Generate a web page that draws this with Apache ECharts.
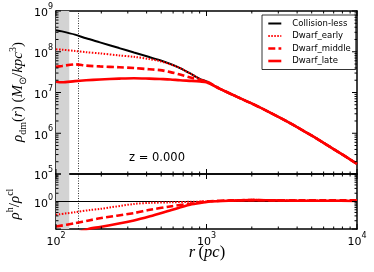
<!DOCTYPE html>
<html><head><meta charset="utf-8">
<script src="https://cdn.jsdelivr.net/npm/echarts@6/dist/echarts.min.js"></script>
<style>html,body{margin:0;padding:0;background:#fff}#c{width:374px;height:272px}</style>
</head><body><div id="c"></div>
<script>
// ---- data (log10 values) ----
const seriesNames = ['Collision-less', 'Dwarf_early', 'Dwarf_middle', 'Dwarf_late'];
// top panel: log10 r [pc]
const logR = [2.0, 2.04, 2.126, 2.2, 2.292, 2.42, 2.518, 2.62, 2.691, 2.76, 2.824, 2.9, 2.957, 3.0, 3.09, 3.2, 3.289, 3.4, 3.555, 3.7, 3.754, 3.85, 4.0];
// log10 rho_dm [Msun/kpc^3]
const logRhoCollisionless = [8.53, 8.50, 8.42, 8.33, 8.23, 8.09, 7.98, 7.87, 7.79, 7.70, 7.60, 7.45, 7.33, 7.27, 7.09, 6.90, 6.75, 6.55, 6.25, 5.94, 5.82, 5.60, 5.25];
const logRhoEarly = [8.06, 8.05, 8.02, 7.99, 7.96, 7.91, 7.875, 7.82, 7.77, 7.69, 7.60, 7.45, 7.33, 7.27, 7.09, 6.90, 6.75, 6.55, 6.25, 5.94, 5.82, 5.60, 5.25];
const logRhoMiddle = [7.63, 7.65, 7.69, 7.66, 7.64, 7.62, 7.60, 7.57, 7.55, 7.50, 7.44, 7.36, 7.30, 7.27, 7.09, 6.90, 6.75, 6.55, 6.25, 5.94, 5.82, 5.60, 5.25];
const logRhoLate = [7.265, 7.25, 7.28, 7.30, 7.32, 7.34, 7.35, 7.34, 7.33, 7.32, 7.30, 7.285, 7.27, 7.25, 7.09, 6.90, 6.75, 6.55, 6.25, 5.94, 5.82, 5.60, 5.25];
// bottom panel: log10 of rho_h / rho_cl
const logRRatio = [2.0, 2.126, 2.226, 2.292, 2.518, 2.625, 2.757, 2.89, 2.99, 3.023, 3.156, 3.309, 3.45, 3.621, 3.8, 4.0];
const logRRatioCollisionless = [2.0, 4.0];
const logRatioCollisionless = [0, 0];
const logRatioEarly = [-0.48, -0.39, -0.31, -0.27, -0.09, -0.05, -0.03, -0.01, 0.0, 0.01, 0.03, 0.06, 0.05, 0.04, 0.03, 0.03];
const logRatioMiddle = [-0.91, -0.79, -0.68, -0.61, -0.42, -0.30, -0.18, -0.08, 0.0, 0.01, 0.04, 0.05, 0.04, 0.04, 0.04, 0.04];
const logRatioLate = [-1.3, -1.16, -0.98, -0.93, -0.69, -0.54, -0.33, -0.12, -0.03, 0.0, 0.03, 0.05, 0.04, 0.03, 0.03, 0.02];
// shaded (unresolved) region and vertical dotted line, in log10 r
const shadedLogR = [2.0, 2.088];
const resolutionLogR = [2.148];
// tick values
const xMajorTicks = [2, 3, 4];
const yMajorTicksTop = [5, 6, 7, 8, 9];
const yMajorTicksBottom = [-1, 0, 1];
const yLabelTicksBottom = [0];
const zText = 'z = 0.000';

// ---- helpers ----
function minorLogs(nFrom, nTo) {
  const out = [];
  for (let n = nFrom; n <= nTo; n++) for (let k = 2; k <= 9; k++) out.push(Math.log10(k) + n);
  return out;
}
function pairs(xs, ys) { return xs.map((x, i) => [x, ys[i]]); }
const supRich = {
  b: { fontFamily: 'DejaVu Sans', fontSize: 11, color: '#000', lineHeight: 16, verticalAlign: 'bottom' },
  s: { fontFamily: 'DejaVu Sans', fontSize: 8, color: '#000', lineHeight: 16, verticalAlign: 'top' }
};
const powFmt = v => '{b|10}{s|' + Math.round(v) + '}';

const grids = [
  { left: 56, top: 11, width: 301, height: 163 },
  { left: 56, top: 174, width: 301, height: 55 }
];
const xRange = [2, 4];
const xMinor = minorLogs(2, 3);
const yMinor = [minorLogs(5, 8), minorLogs(-1, 0)];
const yMajor = [yMajorTicksTop, yMajorTicksBottom];
const yLabels = [yMajorTicksTop, yLabelTicksBottom];
const yRange = [[5, 9], [-1, 1]];
const MAJ = 5, MIN = 2.5;

const xAxes = [], yAxes = [];
for (let g = 0; g < 2; g++) {
  for (const pos of ['bottom', 'top']) {
    xAxes.push({
      type: 'value', gridIndex: g, position: pos, min: xRange[0], max: xRange[1],
      splitLine: { show: false },
      axisLine: { show: true, onZero: false, lineStyle: { color: '#000', width: 1.5 } },
      axisTick: { show: false },
      axisLabel: { show: g === 1 && pos === 'bottom', customValues: xMajorTicks, formatter: powFmt, rich: supRich, margin: 3 }
    });
  }
  for (const pos of ['left', 'right']) {
    yAxes.push({
      type: 'value', gridIndex: g, position: pos, min: yRange[g][0], max: yRange[g][1],
      splitLine: { show: false },
      axisLine: { show: true, onZero: false, lineStyle: { color: '#000', width: 1.5 } },
      axisTick: { show: false },
      axisLabel: { show: pos === 'left', customValues: yLabels[g], formatter: powFmt, rich: supRich, margin: 3 }
    });
  }
}

function seg(x1, y1, x2, y2) {
  return { type: 'line', shape: { x1, y1, x2, y2 }, style: { stroke: '#000', lineWidth: 1 } };
}
function tickSeries(g, axis, majors, minors) {
  const data = majors.map(v => [v, MAJ]).concat(minors.map(v => [v, MIN]));
  return {
    type: 'custom', xAxisIndex: g * 2, yAxisIndex: g * 2, silent: true, clip: false, z: 20, animation: false,
    data: data,
    renderItem: function (params, api) {
      const v = api.value(0), L = api.value(1);
      if (axis === 'x') {
        const a = api.coord([v, yRange[g][0]]), b = api.coord([v, yRange[g][1]]);
        return { type: 'group', children: [seg(a[0], a[1], a[0], a[1] - L), seg(b[0], b[1], b[0], b[1] + L)] };
      }
      const a = api.coord([xRange[0], v]), b = api.coord([xRange[1], v]);
      return { type: 'group', children: [seg(a[0], a[1], a[0] + L, a[1]), seg(b[0], b[1], b[0] - L, b[1])] };
    }
  };
}

const RED = '#ff0000';
const styles = [
  { color: '#000', width: 2, type: 'solid' },
  { color: RED, width: 2, type: [1.5, 1.5] },
  { color: RED, width: 2.6, type: [7, 3.2] },
  { color: RED, width: 2.6, type: 'solid' }
];
const topY = [logRhoCollisionless, logRhoEarly, logRhoMiddle, logRhoLate];
const botY = [logRatioEarly, logRatioMiddle, logRatioLate];

function decor(g) {
  return {
    name: 'decor' + g, type: 'line', xAxisIndex: g * 2, yAxisIndex: g * 2, data: [], silent: true, z: 1,
    markArea: { silent: true, itemStyle: { color: '#d3d3d3' },
      data: [[{ xAxis: shadedLogR[0] }, { xAxis: shadedLogR[1] }]] },
    markLine: { silent: true, symbol: 'none', label: { show: false },
      lineStyle: { color: '#000', width: 0.8, type: [1, 1.5] },
      data: resolutionLogR.map(v => ({ xAxis: v })) }
  };
}

const series = [decor(0), decor(1)];
topY.forEach((ys, i) => series.push({
  name: seriesNames[i], type: 'line', xAxisIndex: 0, yAxisIndex: 0, data: pairs(logR, ys),
  showSymbol: false, symbol: 'none', smooth: 0.3, lineStyle: styles[i], itemStyle: { color: styles[i].color },
  animation: false, z: 3 + i
}));
series.push({
  name: 'ratio_cl', type: 'line', xAxisIndex: 2, yAxisIndex: 2, data: pairs(logRRatioCollisionless, logRatioCollisionless),
  showSymbol: false, symbol: 'none', lineStyle: { color: '#000', width: 1 }, animation: false, z: 3
});
botY.forEach((ys, i) => series.push({
  name: seriesNames[i + 1] + ' ', type: 'line', xAxisIndex: 2, yAxisIndex: 2, data: pairs(logRRatio, ys),
  showSymbol: false, symbol: 'none', smooth: 0.3, lineStyle: styles[i + 1], itemStyle: { color: RED }, animation: false, z: 4 + i
}));
for (let g = 0; g < 2; g++) {
  series.push(tickSeries(g, 'x', xMajorTicks, xMinor));
  series.push(tickSeries(g, 'y', yMajor[g], yMinor[g]));
}

const mathRich = {
  i: { fontFamily: 'Liberation Serif', fontStyle: 'italic', fontSize: 15, color: '#000', lineHeight: 20, verticalAlign: 'middle' },
  n: { fontFamily: 'Liberation Serif', fontSize: 15, color: '#000', lineHeight: 20, verticalAlign: 'middle' },
  sub: { fontFamily: 'Liberation Serif', fontSize: 10, color: '#000', lineHeight: 20, verticalAlign: 'bottom' },
  sup: { fontFamily: 'Liberation Serif', fontSize: 10, color: '#000', lineHeight: 20, verticalAlign: 'top' }
};
const xTitleRich = JSON.parse(JSON.stringify(mathRich));
xTitleRich.i.fontSize = 16.5; xTitleRich.n.fontSize = 16.5;

const transparent = 'rgba(0,0,0,0)';
const option = {
  animation: false,
  backgroundColor: '#fff',
  grid: grids,
  xAxis: xAxes,
  yAxis: yAxes,
  legend: {
    orient: 'vertical', left: 262, top: 15,
    data: seriesNames.map((n, i) => ({ name: n, lineStyle: { type: styles[i].type, width: styles[i].width, color: styles[i].color } })),
    itemWidth: 13, itemHeight: 10, itemGap: 3.5, padding: [4, 5, 4, 5],
    backgroundColor: '#fff', borderColor: '#000', borderWidth: 0.8,
    itemStyle: { color: transparent, borderColor: transparent, borderWidth: 0, opacity: 0 },
    textStyle: { fontFamily: 'DejaVu Sans', fontSize: 8.5, color: '#000', padding: [0, 0, 0, 6] },
    selectedMode: false
  },
  graphic: [
    { type: 'text', x: 157, y: 158, z: 30, style: { text: zText, fontFamily: 'DejaVu Sans', fontSize: 11.5, fill: '#000', align: 'center', verticalAlign: 'middle' } },
    { type: 'text', x: 207, y: 253, style: { text: '{i|r} {n|(}{i|pc}{n|)}', rich: xTitleRich, align: 'center', verticalAlign: 'middle' } },
    { type: 'text', x: 18, y: 92, rotation: Math.PI / 2,
      style: { text: '{i|ρ}{sub|dm}{n|(}{i|r}{n|) (}{i|M}{sub|⊙}{n|/}{i|kpc}{sup|3}{n|)}', rich: mathRich, align: 'center', verticalAlign: 'middle' } },
    { type: 'text', x: 15, y: 204, rotation: Math.PI / 2,
      style: { text: '{i|ρ}{sup|h}{n|/}{i|ρ}{sup|cl}', rich: mathRich, align: 'center', verticalAlign: 'middle' } }
  ],
  series: series
};
const chart = echarts.init(document.getElementById('c'), null, { renderer: 'canvas' });
chart.setOption(option);
</script></body></html>
